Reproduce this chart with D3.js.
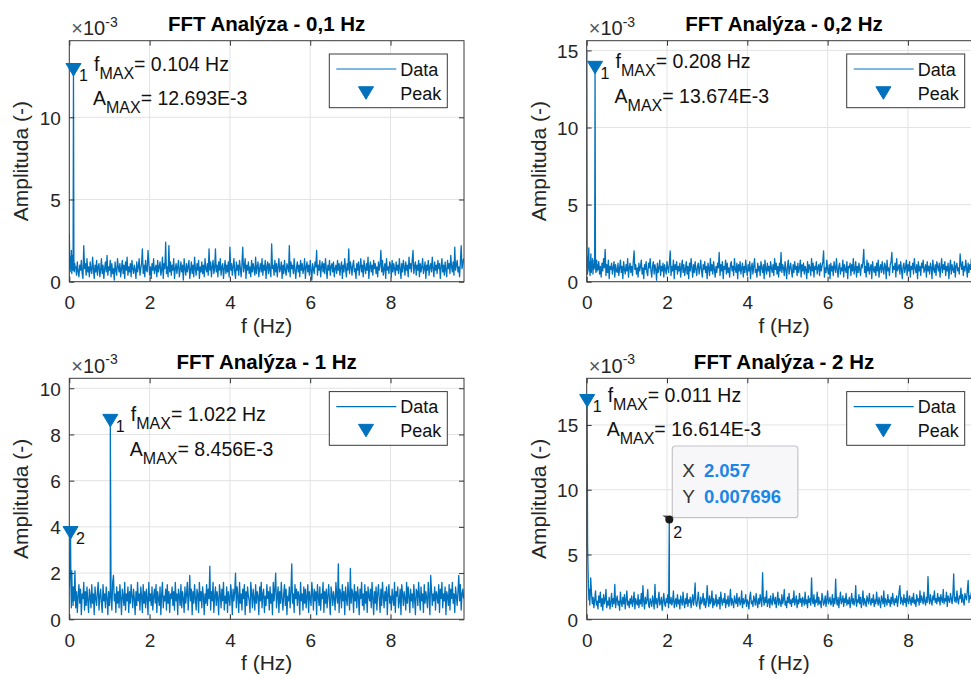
<!DOCTYPE html>
<html>
<head>
<meta charset="utf-8">
<script src="https://cdn.jsdelivr.net/npm/d3@7"></script>
<style>
  body { margin: 0; background: #fff; }
  svg { display: block; font-family: "Liberation Sans", Arial, Helvetica, sans-serif; }
</style>
</head>
<body>
<svg id="fig" width="971" height="678"></svg>
<script>
// ---- Spectrum data ----

const titles = ["FFT Analýza - 0,1 Hz", "FFT Analýza - 0,2 Hz", "FFT Analýza - 1 Hz", "FFT Analýza - 2 Hz"];

// fine FFT bins close to DC, amplitude in 1e-3
// (null = bin holding a detected peak, listed in the peak arrays)
const df01 = 0.0104, df02 = 0.0104, df03 = 0.01043, df04 = 0.011;
const head01 = [2.9, 1.3, 0.6, 1.5, 0.8, 1.9, 0.5, 1.2, 1.6, 0.7, null, 1.4, 0.6, 1.1, 0.9];
const head02 = [15.0, 1.1, 0.5, 1.6, 0.9, 2.2, 0.7, 1.3, 0.4, 1.0, 1.8, 0.6, 1.2, 0.9, 1.5, 0.5, 1.1, 0.8, 1.4, 0.9, null, 1.3, 0.6, 1.0, 1.4, 0.7, 1.1];
const head03 = [1.4, 2.0, 2.8, null, 1.3, 0.5, 2.1, 0.8, 1.4, 0.6];
const head04 = [5.6, null, 5.8, 3.9, 2.5, 1.5, 2.3, 1.1, 1.9];

// broadband noise floor, amplitude in 1e-4, one value every NOISE_STEP Hz from noiseStart
const NOISE_STEP = 0.02;
const noiseStart = [0.16, 0.28, 0.10, 0.10];
const noise01 = [
  9,4,12,6,3,10,7,13,5,2,22,8,11,4,14,6,9,3,12,7,5,15,8,2,10,
  6,13,4,9,11,3,7,14,5,10,2,8,12,6,16,4,9,7,13,3,11,5,8,1,12,
  7,4,14,9,6,11,3,8,13,5,10,2,12,7,15,4,9,6,11,3,13,8,5,10,7,
  2,12,6,9,14,4,8,11,20,5,10,3,13,7,6,19,12,4,9,2,11,7,14,5,8,
  10,3,13,6,9,12,4,7,15,2,11,8,24,5,9,3,22,6,12,4,10,7,14,2,8,
  11,5,9,13,3,7,12,6,10,1,14,8,4,11,6,9,13,2,7,12,5,10,3,15,8,
  4,11,7,13,2,9,6,12,5,10,3,14,8,6,11,4,20,7,12,3,9,13,5,8,20,
  6,10,3,12,7,14,4,9,11,2,8,13,5,10,6,12,3,21,7,11,4,9,14,6,2,
  12,7,10,4,13,8,3,11,21,6,9,14,2,10,7,12,5,9,3,13,6,11,8,4,15,
  5,9,12,3,8,11,6,14,4,10,7,13,2,9,12,5,11,7,3,23,8,10,4,13,6,
  11,3,9,14,6,8,12,2,10,5,13,7,4,11,9,6,22,3,12,8,10,5,14,7,2,
  9,12,6,10,3,13,7,11,5,8,14,2,9,12,6,10,4,13,7,1,11,8,5,12,9,
  19,4,10,7,13,3,9,12,6,11,5,14,8,2,10,7,13,4,9,11,6,12,3,8,10,
  5,13,7,11,4,9,12,2,10,6,14,8,3,11,7,20,5,12,9,4,10,13,6,8,2,
  11,7,12,4,9,14,6,10,3,13,8,5,11,7,15,2,9,12,6,10,4,13,8,11,5,
  9,3,12,7,10,19,6,13,4,8,11,2,14,7,9,5,12,10,3,13,6,11,8,4,12,
  7,10,5,14,8,2,11,6,13,9,4,12,7,10,3,15,8,11,6,13,19,5,9,12,4,
  10,7,13,3,11,6,9,14,5,8,12,2,10,7,13,4,9,11,6,15,8,3,12,7,10,
  5,13,8,11,2,9,14,6,10,4,12,7,3,13,8,11,5,16,9,6,12,4,21,7,10,
  13,6,9,3,12,22,8,11,14
];
const noise02 = [
  8,13,5,10,3,12,7,15,9,21,4,11,6,14,2,10,8,12,5,9,13,3,11,7,6,
  12,4,9,14,6,10,2,13,8,5,11,7,15,3,9,12,6,10,4,13,20,8,11,5,9,
  3,12,7,10,14,5,9,2,11,8,13,6,4,12,9,15,7,3,10,13,5,11,8,1,12,
  6,9,14,4,10,7,12,3,11,8,5,13,9,6,12,20,4,10,7,14,2,11,8,13,5,
  10,7,12,3,9,14,6,11,4,8,13,5,10,2,12,7,15,9,3,11,6,13,8,4,10,
  12,5,9,14,7,3,11,8,13,6,10,2,12,9,4,15,7,11,5,13,8,3,10,6,12,
  9,19,4,11,7,13,2,10,8,14,5,12,6,9,3,11,13,7,10,4,15,8,6,12,2,
  11,7,13,5,9,12,3,10,6,14,8,4,11,7,13,2,9,12,5,10,15,6,8,3,12,
  7,10,4,13,9,6,11,2,14,8,5,12,7,10,3,13,9,6,11,4,15,8,12,5,10,
  3,12,7,19,6,11,9,4,13,8,2,10,14,5,9,12,7,3,11,6,13,8,10,4,12,
  6,9,14,3,11,7,12,5,10,8,2,13,6,11,9,4,15,7,12,3,10,8,13,5,9,
  11,4,12,7,10,13,20,3,9,6,14,8,5,11,2,12,7,10,4,13,9,6,15,8,3,
  10,12,5,9,7,14,3,11,8,6,13,2,10,9,12,4,11,7,15,5,8,13,3,10,6,
  12,8,4,11,9,13,21,6,10,3,14,7,12,5,9,11,2,13,8,6,10,4,12,7,14,
  3,9,11,6,13,8,5,12,10,2,14,7,9,4,11,13,19,6,10,8,12,3,15,7,9,
  11,5,13,8,2,10,12,6,9,14,4,11,7,13,3,10,8,12,5,15,9,6,11,2,13,
  7,10,4,12,9,14,6,8,11,3,13,7,10,5,12,9,2,14,8,6,11,4,13,10,7,
  12,3,9,15,6,11,8,13,4,10,7,12,2,9,14,5,11,8,6,13,3,10,12,7,9,
  5,18,11,8,13,4,10,7,14,9,3,12,6,11,8,15,5,10,13,2,9,12,7,11,14,
  8,12,10
];
const noise03 = [
  14,8,21,5,12,3,10,15,7,13,2,11,9,16,4,12,6,14,8,3,13,10,5,15,7,
  11,2,14,9,6,12,16,4,10,13,7,3,15,8,11,5,14,9,2,12,6,13,10,4,16,
  19,8,11,3,14,7,12,5,15,9,2,13,10,6,16,4,11,8,14,3,12,7,15,10,5,
  13,9,2,12,6,16,8,11,4,14,10,3,15,7,12,5,13,9,2,16,8,11,6,14,4,
  10,13,7,15,3,12,9,6,14,2,11,16,5,10,8,13,4,15,7,12,3,11,9,14,6,
  12,4,16,8,11,2,13,10,6,15,5,12,9,3,14,7,11,16,4,10,19,8,13,2,12,
  7,15,9,4,13,11,3,16,8,12,5,14,10,2,11,7,15,6,13,9,23,4,12,8,16,
  3,10,14,6,12,9,2,15,11,5,13,8,16,4,10,7,14,3,12,9,6,15,11,2,13,
  8,12,20,5,14,10,3,16,7,11,4,13,9,15,2,12,6,14,10,8,3,16,11,5,13,
  9,4,15,7,12,10,2,14,8,16,5,11,13,3,10,6,15,9,12,4,14,7,11,2,16,
  8,13,20,5,10,14,3,12,7,16,9,4,11,15,6,13,2,10,8,14,5,12,24,7,11,
  3,15,9,13,6,12,10,2,16,8,11,4,14,7,13,5,10,15,3,12,9,6,16,11,4,
  13,8,12,2,15,10,6,14,4,11,9,16,3,12,7,13,5,10,15,8,2,14,11,6,12,
  9,4,16,10,7,24,3,13,11,5,15,8,12,2,14,9,6,16,10,4,22,7,13,11,3,
  15,8,12,5,14,10,2,13,9,16,6,11,4,15,7,12,3,14,10,8,13,5,16,9,2,
  12,7,14,4,11,15,9,3,13,6,16,10,5,12,8,14,2,11,15,7,10,4,13,9,6,
  16,3,12,10,14,5,8,13,2,15,11,6,12,9,4,16,7,14,10,3,13,8,11,5,15,
  9,2,13,12,6,16,10,4,14,8,11,3,15,7,12,9,5,16,10,2,19,13,6,11,8,
  14,4,12,10,7,15,3,13,9,16,5,11,8,14,2,12,10,6,15,4,13,9,16,7,11,
  3,14,10,6,12,19,8,15,4,11,13,9
];
const noise04 = [
  32,20,12,17,9,15,22,11,14,8,18,13,21,10,16,7,19,12,15,23,9,14,11,17,8,
  13,20,10,16,12,27,9,15,18,11,14,7,21,13,10,17,12,19,8,15,22,11,14,9,16,
  12,18,10,14,21,8,16,13,11,19,9,15,12,20,10,26,14,8,17,12,15,23,11,9,16,
  13,10,18,14,8,27,12,16,9,15,21,11,13,17,7,14,20,12,10,16,13,19,9,15,12,
  17,11,14,22,9,13,16,10,19,12,15,8,18,14,11,21,13,9,16,12,20,10,15,13,17,
  9,14,19,11,16,28,12,10,15,21,13,8,17,12,14,20,11,16,9,13,26,15,10,18,12,
  14,22,9,16,11,13,19,10,15,12,17,8,21,14,11,16,13,20,9,15,12,18,10,14,23,
  11,16,13,9,18,14,12,20,10,15,17,11,13,22,9,16,12,14,19,10,15,13,8,17,21,
  12,14,10,18,15,11,20,13,9,16,12,19,14,10,36,15,11,17,13,22,10,14,16,9,18,
  13,11,20,15,12,17,9,14,21,11,16,13,10,19,12,15,23,11,14,9,17,13,20,12,15,
  10,16,13,22,11,14,18,9,15,12,20,13,16,10,17,14,11,21,12,15,9,18,13,16,11,
  32,14,12,19,10,15,13,21,11,17,12,14,9,20,16,11,13,18,10,15,22,12,14,17,11,
  13,19,10,16,12,31,14,11,17,9,15,21,12,14,18,10,16,13,20,11,15,12,17,9,14,
  20,12,16,11,14,26,10,15,13,19,12,17,9,14,22,11,16,13,10,18,15,12,20,14,11,
  16,13,19,10,15,12,21,14,11,17,13,9,18,15,12,22,10,16,14,11,19,13,15,10,17,
  12,20,14,11,16,13,18,10,15,21,26,12,17,14,11,19,13,16,10,22,14,12,18,15,11,
  17,13,20,12,15,10,19,14,16,11,22,13,18,15,12,21,14,11,17,13,33,16,12,19,14,
  11,18,15,22,13,16,12,20,14,17,11,19,15,13,23,12,16,14,21,10,18,15,13,20,16,
  12,19,35,14,17,13,22,15,12,18,16,24,13,19,14,11,20,17,15,22,30,13,18,16,21,
  14,19,16,23,13,20,17,15,24,18,22,19
];

// detected peaks, amplitude in 1e-3 (first entry = global maximum, labelled "1")
const peakFreq01 = [0.104],        peakAmp01 = [12.693];
const peakFreq02 = [0.208],        peakAmp02 = [13.674];
const peakFreq03 = [1.022, 0.031], peakAmp03 = [8.456, 3.6];
const peakFreq04 = [0.011, 2.057], peakAmp04 = [16.614, 7.696];

// axis limits and ticks (amplitude axis in 1e-3)
const xMax = 9.83;
const xTicks = [0, 2, 4, 6, 8];
const yMax = [14.66, 15.63, 10.43, 18.6];
const yTicks01 = [0, 5, 10];
const yTicks02 = [0, 5, 10, 15];
const yTicks03 = [0, 2, 4, 6, 8, 10];
const yTicks04 = [0, 5, 10, 15];

// data tip shown on panel 4, peak 2
const dataTip = { panel: 3, peak: 1 };

// ---- Figure ----
const W = 971, H = 678;
const colX = [69.3, 586.7], rowY = [40.7, 378.3];
const boxW = 394.7, boxH = 241;
const BLUE = "#0072BD", TXT = "#262626";

const panels = [
  { title: titles[0], df: df01, head: head01, noise: noise01, n0: noiseStart[0], pf: peakFreq01, pa: peakAmp01, yMax: yMax[0], yTicks: yTicks01, col: 0, row: 0 },
  { title: titles[1], df: df02, head: head02, noise: noise02, n0: noiseStart[1], pf: peakFreq02, pa: peakAmp02, yMax: yMax[1], yTicks: yTicks02, col: 1, row: 0 },
  { title: titles[2], df: df03, head: head03, noise: noise03, n0: noiseStart[2], pf: peakFreq03, pa: peakAmp03, yMax: yMax[2], yTicks: yTicks03, col: 0, row: 1 },
  { title: titles[3], df: df04, head: head04, noise: noise04, n0: noiseStart[3], pf: peakFreq04, pa: peakAmp04, yMax: yMax[3], yTicks: yTicks04, col: 1, row: 1 }
];

const svg = d3.select("#fig");
svg.append("rect").attr("width", W).attr("height", H).attr("fill", "#fff");
const defs = svg.append("defs");

// merge near-DC bins, noise floor and peaks into one spectrum (amplitude in 1e-3)
function buildSeries(p) {
  const pts = [];
  p.head.forEach((a, k) => { if (a !== null) pts.push([k * p.df, a]); });
  p.noise.forEach((a, k) => pts.push([p.n0 + k * NOISE_STEP, a / 10]));
  p.pf.forEach((f, k) => pts.push([f, p.pa[k]]));
  return d3.sort(pts, d => d[0]);
}

const tri = (cx, cy, w, h) => `M${cx - w / 2},${cy - h / 2}L${cx + w / 2},${cy - h / 2}L${cx},${cy + h / 2}Z`;

panels.forEach((p, pi) => {
  const x0 = colX[p.col], y0 = rowY[p.row];
  const x = d3.scaleLinear().domain([0, xMax]).range([x0, x0 + boxW]);
  const y = d3.scaleLinear().domain([0, p.yMax]).range([y0 + boxH, y0]);
  const g = svg.append("g");

  const clipId = "clip" + pi;
  defs.append("clipPath").attr("id", clipId)
    .append("rect").attr("x", x0).attr("y", y0).attr("width", boxW).attr("height", boxH);

  // grid
  g.append("g").selectAll("line").data(xTicks).join("line")
    .attr("x1", d => x(d)).attr("x2", d => x(d)).attr("y1", y0).attr("y2", y0 + boxH)
    .attr("stroke", "#e3e3e3").attr("stroke-width", 1);
  g.append("g").selectAll("line").data(p.yTicks).join("line")
    .attr("x1", x0).attr("x2", x0 + boxW).attr("y1", d => y(d)).attr("y2", d => y(d))
    .attr("stroke", "#e3e3e3").attr("stroke-width", 1);

  // spectrum
  const series = buildSeries(p);
  g.append("path").datum(series)
    .attr("clip-path", `url(#${clipId})`)
    .attr("fill", "none").attr("stroke", BLUE).attr("stroke-width", 1.3)
    .attr("stroke-linejoin", "round")
    .attr("d", d3.line().x(d => x(d[0])).y(d => y(d[1])));

  // axes (ticks pointing inward on all four sides)
  const axB = g.append("g").attr("transform", `translate(0,${y0 + boxH})`)
    .call(d3.axisBottom(x).tickValues(xTicks).tickSizeInner(-5).tickSizeOuter(0).tickFormat(d3.format("d")));
  axB.selectAll("text").attr("y", 27.3).attr("dy", null).attr("font-size", 19).attr("fill", TXT);
  const axT = g.append("g").attr("transform", `translate(0,${y0})`)
    .call(d3.axisTop(x).tickValues(xTicks).tickSizeInner(-5).tickSizeOuter(0).tickFormat(""));
  const axL = g.append("g").attr("transform", `translate(${x0},0)`)
    .call(d3.axisLeft(y).tickValues(p.yTicks).tickSizeInner(-5).tickSizeOuter(0).tickFormat(d3.format("d")));
  axL.selectAll("text").attr("x", -8.5).attr("dy", "0.36em").attr("font-size", 19).attr("fill", TXT);
  const axR = g.append("g").attr("transform", `translate(${x0 + boxW},0)`)
    .call(d3.axisRight(y).tickValues(p.yTicks).tickSizeInner(-5).tickSizeOuter(0).tickFormat(""));
  [axB, axT, axL, axR].forEach(a => {
    a.attr("font-family", null);
    a.select(".domain").remove();
    a.selectAll(".tick line").attr("stroke", "#333");
  });

  // frame
  g.append("rect").attr("x", x0).attr("y", y0).attr("width", boxW).attr("height", boxH)
    .attr("fill", "none").attr("stroke", "#3a3a3a").attr("stroke-width", 1);

  // exponent label
  const ex = g.append("text").attr("x", x0 + 2).attr("y", y0 - 5.7)
    .attr("font-size", 20).attr("fill", TXT);
  ex.append("tspan").attr("fill", "#555").text("×");
  ex.append("tspan").text("10");
  ex.append("tspan").attr("font-size", 14).attr("dy", -8.5).text("-3");

  // title and axis labels
  g.append("text").attr("x", x0 + boxW / 2).attr("y", y0 - 9.5)
    .attr("text-anchor", "middle").attr("font-size", 20.5).attr("font-weight", "bold")
    .attr("fill", "#000").text(p.title);
  g.append("text").attr("x", x0 + boxW / 2).attr("y", y0 + boxH + 51)
    .attr("text-anchor", "middle").attr("font-size", 21).attr("fill", TXT).text("f (Hz)");
  g.append("text")
    .attr("transform", `translate(${x0 - 41},${y0 + boxH / 2}) rotate(-90)`)
    .attr("text-anchor", "middle").attr("font-size", 21).attr("fill", TXT).text("Amplituda (-)");

  // peak markers with index labels
  p.pf.forEach((f, k) => {
    const px = x(f), py = y(p.pa[k]);
    const isTip = dataTip.panel === pi && dataTip.peak === k;
    if (!isTip) {
      g.append("path").attr("d", tri(px, py - 3.3, 15, 12.5)).attr("fill", BLUE).attr("stroke", BLUE);
      g.append("text").attr("x", px + 5.5).attr("y", py + 8.2)
        .attr("font-size", 16).attr("fill", "#111").text(k + 1);
    } else {
      g.append("path").attr("d", `M${px - 7},${py - 4}L${px - 2},${py - 4}L${px - 3},${py - 1}Z`).attr("fill", "#555");
      g.append("text").attr("x", px + 4).attr("y", py + 18.5)
        .attr("font-size", 16).attr("fill", "#111").text(k + 1);
    }
  });

  // annotation of the maximum
  const fx = x(p.pf[0]) + 20.5, fy = y(p.pa[0]) - 2.5;
  const t1 = g.append("text").attr("x", fx).attr("y", fy).attr("font-size", 19.5).attr("fill", "#111");
  t1.append("tspan").text("f");
  t1.append("tspan").attr("font-size", 16).attr("dy", 8).text("MAX");
  t1.append("tspan").attr("dy", -8).text("= " + p.pf[0].toFixed(3) + " Hz");
  const t2 = g.append("text").attr("x", fx - 1).attr("y", fy + 34.5).attr("font-size", 19.5).attr("fill", "#111");
  t2.append("tspan").text("A");
  t2.append("tspan").attr("font-size", 16).attr("dy", 8).text("MAX");
  t2.append("tspan").attr("dy", -8).text("= " + p.pa[0].toFixed(3) + "E-3");

  // legend
  const lx = x0 + 260, ly = y0 + 13.3;
  const lg = g.append("g");
  lg.append("rect").attr("x", lx).attr("y", ly).attr("width", 118).attr("height", 53.7)
    .attr("fill", "#fff").attr("stroke", "#3a3a3a").attr("stroke-width", 1);
  lg.append("line").attr("x1", lx + 7).attr("x2", lx + 67).attr("y1", ly + 15).attr("y2", ly + 15)
    .attr("stroke", BLUE).attr("stroke-width", 1.1);
  lg.append("text").attr("x", lx + 71).attr("y", ly + 21.5).attr("font-size", 18).attr("fill", "#111").text("Data");
  lg.append("path").attr("d", tri(lx + 36.7, ly + 39, 15, 12.5)).attr("fill", BLUE).attr("stroke", BLUE);
  lg.append("text").attr("x", lx + 71).attr("y", ly + 45.5).attr("font-size", 18).attr("fill", "#111").text("Peak");

  // data tip
  if (dataTip.panel === pi) {
    const k = dataTip.peak;
    const px = x(p.pf[k]), py = y(p.pa[k]);
    const bx = px + 3, by = py - 73.6;
    const tip = g.append("g");
    tip.append("rect").attr("x", bx).attr("y", by).attr("width", 125.6).attr("height", 71.7)
      .attr("rx", 3).attr("fill", "#f7f7fa").attr("fill-opacity", 0.95)
      .attr("stroke", "#c4c4c8").attr("stroke-width", 1.2);
    const rowsTip = [["X", p.pf[k].toFixed(3)], ["Y", (p.pa[k] / 1000).toFixed(6)]];
    rowsTip.forEach((r, i) => {
      tip.append("text").attr("x", bx + 10).attr("y", by + 31 + i * 26.3)
        .attr("font-size", 19).attr("fill", "#333").text(r[0]);
      tip.append("text").attr("x", bx + 31.6).attr("y", by + 31 + i * 26.3)
        .attr("font-size", 18.5).attr("font-weight", "bold").attr("fill", "#1a86e8").text(r[1]);
    });
    g.append("circle").attr("cx", px).attr("cy", py).attr("r", 4).attr("fill", "#1a1a1a");
  }
});
</script>
</body>
</html>
